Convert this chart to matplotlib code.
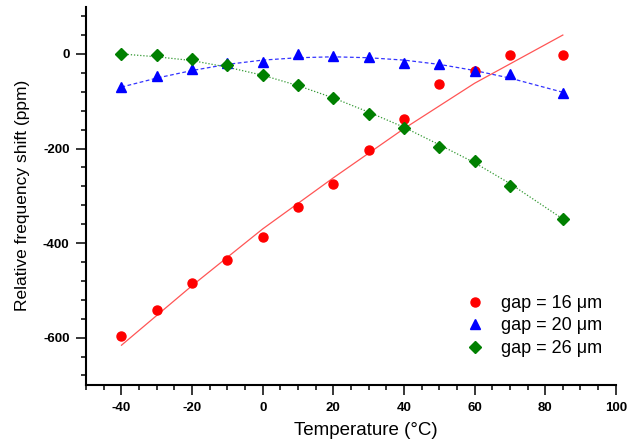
import numpy as np
import matplotlib.pyplot as plt
from matplotlib.ticker import MultipleLocator

plt.rcParams['font.family'] = ['Liberation Sans', 'DejaVu Sans']
plt.rcParams['axes.unicode_minus'] = False

# measured points (temperature in degC, shift in ppm)
temp = [-40, -30, -20, -10, 0, 10, 20, 30, 40, 50, 60, 70, 85]
gap16 = [-596, -542, -484, -436, -388, -323, -275, -203, -138, -64, -36, -2, -2]
gap20 = [-70, -46, -32, -20, -17, -1, -4, -7, -20, -22, -36, -43, -83]
gap26 = [0, -3, -11, -24, -44, -65, -93, -126, -156, -196, -226, -280, -349]

# fit curves
fit16_x = [-40, -20, 0, 20, 40, 60, 85]
fit16_y = [-616, -490, -370, -262, -158, -62, 40]
fit20_x = [-40, -30, -20, -10, 0, 10, 20, 30, 40, 50, 60, 70, 85]
fit20_y = [-70, -51, -35, -22, -13, -8, -6, -8, -13, -22, -35, -51, -81]
fit26_x = [-40, -30, -20, -10, 0, 10, 20, 30, 40, 50, 60, 70, 85]
fit26_y = [0, -6, -14, -28, -45, -67, -93, -123, -155, -192, -230, -274, -349]

labels = ["gap = 16 \u03bcm", "gap = 20 \u03bcm", "gap = 26 \u03bcm"]

fig = plt.figure(figsize=(6.29, 4.45), dpi=100)
ax = fig.add_axes([0.137, 0.135, 0.842, 0.85])

ax.plot(fit16_x, fit16_y, color="#ff5555", lw=0.9)
ax.plot(fit20_x, fit20_y, color="#3333ff", lw=0.9, ls=(0, (3, 2)))
ax.plot(fit26_x, fit26_y, color="#339933", lw=0.9, ls=(0, (1, 1.5)))

ax.plot(temp, gap16, "o", color="red", ms=6.5, mec="red", label=labels[0])
ax.plot(temp, gap20, "^", color="blue", ms=7.5, mec="blue", label=labels[1])
ax.plot(temp, gap26, "D", color="#008000", ms=6, mec="#008000", label=labels[2])

ax.set_xlim(-50, 100)
ax.set_ylim(-700, 100)
ax.xaxis.set_major_locator(MultipleLocator(20))
ax.xaxis.set_minor_locator(MultipleLocator(5))
ax.yaxis.set_major_locator(MultipleLocator(200))
ax.yaxis.set_minor_locator(MultipleLocator(40))
ax.tick_params(which="major", direction="out", length=7, width=1.1, labelsize=9.5, pad=5)
ax.tick_params(which="minor", direction="out", length=3.6, width=1.1)
for t in ax.get_xticklabels() + ax.get_yticklabels():
    t.set_fontweight("bold")

ax.spines["top"].set_visible(False)
ax.spines["right"].set_visible(False)
ax.spines["left"].set_linewidth(1.5)
ax.spines["bottom"].set_linewidth(1.5)

ax.set_xlabel("Temperature (\u00b0C)", fontsize=13.5)
ax.xaxis.set_label_coords(0.528, -0.097)
ax.set_ylabel("Relative frequency shift (ppm)", fontsize=12.5, labelpad=9)

ax.legend(loc="center left", bbox_to_anchor=(0.714, 0.156), frameon=False,
          borderpad=0, borderaxespad=0,
          fontsize=13, handlelength=1.2, handletextpad=0.85, labelspacing=0.3)

plt.savefig("out.png")
